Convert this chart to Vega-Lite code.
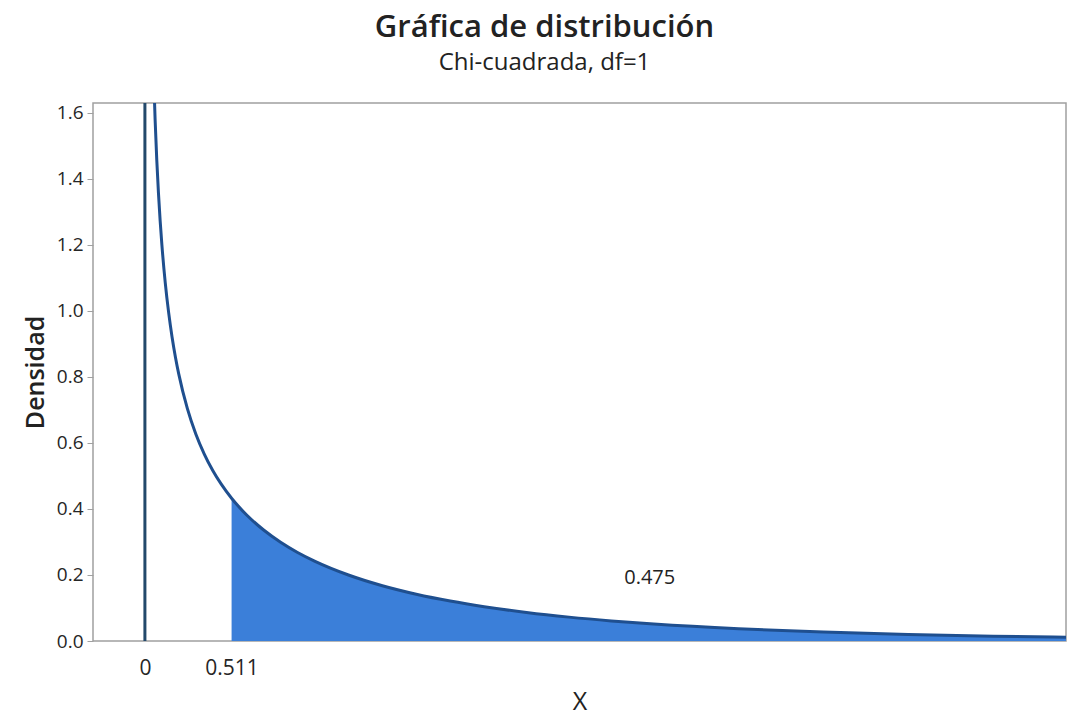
{
  "$schema": "https://vega.github.io/schema/vega-lite/v6.json",
  "autosize": {"type": "none"},
  "width": 973,
  "height": 538,
  "padding": {"left": 93, "top": 103, "right": 2, "bottom": 76},
  "background": "white",
  "title": {
    "text": "Gráfica de distribución",
    "subtitle": "Chi-cuadrada, df=1",
    "anchor": "middle",
    "dx": -35,
    "offset": 27,
    "font": "Open Sans",
    "fontSize": 31,
    "fontWeight": 600,
    "color": "#222222",
    "subtitleFont": "Open Sans",
    "subtitleFontSize": 24,
    "subtitleFontWeight": 400,
    "subtitleColor": "#222222",
    "subtitlePadding": 7
  },
  "config": {
    "view": {"stroke": "#a0a0a0", "strokeWidth": 1.5},
    "axis": {
      "labelFont": "Open Sans",
      "titleFont": "Open Sans",
      "labelColor": "#262626",
      "titleColor": "#222222",
      "domain": false,
      "grid": false
    }
  },
  "datasets": {
    "pts": [
      {"x": 0, "y": 0, "part": "zero"},
      {"x": 0, "y": 1.8, "part": "zero"},
      {"x": 0.05, "y": 1.7401, "part": "curve"},
      {"x": 0.06, "y": 1.5805, "part": "curve"},
      {"x": 0.07, "y": 1.4560, "part": "curve"},
      {"x": 0.08, "y": 1.3552, "part": "curve"},
      {"x": 0.09, "y": 1.2713, "part": "curve"},
      {"x": 0.10, "y": 1.2000, "part": "curve"},
      {"x": 0.12, "y": 1.0846, "part": "curve"},
      {"x": 0.14, "y": 0.9941, "part": "curve"},
      {"x": 0.16, "y": 0.9207, "part": "curve"},
      {"x": 0.18, "y": 0.8594, "part": "curve"},
      {"x": 0.20, "y": 0.8072, "part": "curve"},
      {"x": 0.25, "y": 0.7041, "part": "curve"},
      {"x": 0.30, "y": 0.6269, "part": "curve"},
      {"x": 0.35, "y": 0.5661, "part": "curve"},
      {"x": 0.40, "y": 0.5164, "part": "curve"},
      {"x": 0.45, "y": 0.4749, "part": "curve"},
      {"x": 0.511, "y": 0.4323, "part": "curve"},
      {"x": 0.55, "y": 0.4086, "part": "curve"},
      {"x": 0.6, "y": 0.3815, "part": "curve"},
      {"x": 0.7, "y": 0.3360, "part": "curve"},
      {"x": 0.8, "y": 0.2990, "part": "curve"},
      {"x": 0.9, "y": 0.2681, "part": "curve"},
      {"x": 1.0, "y": 0.2420, "part": "curve"},
      {"x": 1.2, "y": 0.1999, "part": "curve"},
      {"x": 1.4, "y": 0.1674, "part": "curve"},
      {"x": 1.6, "y": 0.1417, "part": "curve"},
      {"x": 1.8, "y": 0.1209, "part": "curve"},
      {"x": 2.0, "y": 0.1038, "part": "curve"},
      {"x": 2.25, "y": 0.08635, "part": "curve"},
      {"x": 2.5, "y": 0.07229, "part": "curve"},
      {"x": 2.75, "y": 0.06083, "part": "curve"},
      {"x": 3.0, "y": 0.05139, "part": "curve"},
      {"x": 3.5, "y": 0.03706, "part": "curve"},
      {"x": 4.0, "y": 0.02700, "part": "curve"},
      {"x": 4.5, "y": 0.01982, "part": "curve"},
      {"x": 5.0, "y": 0.01464, "part": "curve"},
      {"x": 5.5, "y": 0.01087, "part": "curve"}
    ],
    "fill": [
      {"x": 0.511, "y": 0.4323},
      {"x": 0.55, "y": 0.4086},
      {"x": 0.6, "y": 0.3815},
      {"x": 0.7, "y": 0.3360},
      {"x": 0.8, "y": 0.2990},
      {"x": 0.9, "y": 0.2681},
      {"x": 1.0, "y": 0.2420},
      {"x": 1.2, "y": 0.1999},
      {"x": 1.4, "y": 0.1674},
      {"x": 1.6, "y": 0.1417},
      {"x": 1.8, "y": 0.1209},
      {"x": 2.0, "y": 0.1038},
      {"x": 2.25, "y": 0.08635},
      {"x": 2.5, "y": 0.07229},
      {"x": 2.75, "y": 0.06083},
      {"x": 3.0, "y": 0.05139},
      {"x": 3.5, "y": 0.03706},
      {"x": 4.0, "y": 0.02700},
      {"x": 4.5, "y": 0.01982},
      {"x": 5.0, "y": 0.01464},
      {"x": 5.5, "y": 0.01087}
    ],
    "label": [{"x": 2.976, "y": 0.19, "text": "0.475"}]
  },
  "layer": [
    {
      "data": {"name": "fill"},
      "mark": {"type": "area", "color": "#3b7fd9", "clip": true, "opacity": 1, "interpolate": "monotone"},
      "encoding": {
        "x": {
          "field": "x", "type": "quantitative",
          "scale": {"domain": [-0.306, 5.43], "nice": false, "zero": false},
          "axis": {
            "values": [0, 0.511],
            "labelExpr": "datum.value == 0 ? '0' : '0.511'",
            "ticks": false,
            "labelPadding": 16,
            "labelFontSize": 21,
            "title": "X",
            "titleFontSize": 25,
            "titleFontWeight": 400,
            "titlePadding": 11
          }
        },
        "y": {
          "field": "y", "type": "quantitative",
          "scale": {"domain": [0, 1.629], "nice": false},
          "axis": {
            "values": [0, 0.2, 0.4, 0.6, 0.8, 1.0, 1.2, 1.4, 1.6],
            "format": ".1f",
            "tickSize": 6,
            "tickColor": "#a0a0a0",
            "labelPadding": 4,
            "labelFontSize": 19,
            "title": "Densidad",
            "titleFontSize": 25,
            "titleFontWeight": 600,
            "titlePadding": 8
          }
        }
      }
    },
    {
      "data": {"name": "pts"},
      "mark": {"type": "line", "clip": true, "strokeWidth": 3, "interpolate": "monotone"},
      "encoding": {
        "x": {"field": "x", "type": "quantitative"},
        "y": {"field": "y", "type": "quantitative"},
        "detail": {"field": "part"},
        "color": {
          "field": "part", "type": "nominal",
          "scale": {"domain": ["curve", "zero"], "range": ["#1f4f8f", "#23496b"]},
          "legend": null
        }
      }
    },
    {
      "data": {"name": "label"},
      "mark": {"type": "text", "font": "Open Sans", "fontSize": 20, "color": "#222222"},
      "encoding": {
        "x": {"field": "x", "type": "quantitative"},
        "y": {"field": "y", "type": "quantitative"},
        "text": {"field": "text"}
      }
    }
  ]
}
